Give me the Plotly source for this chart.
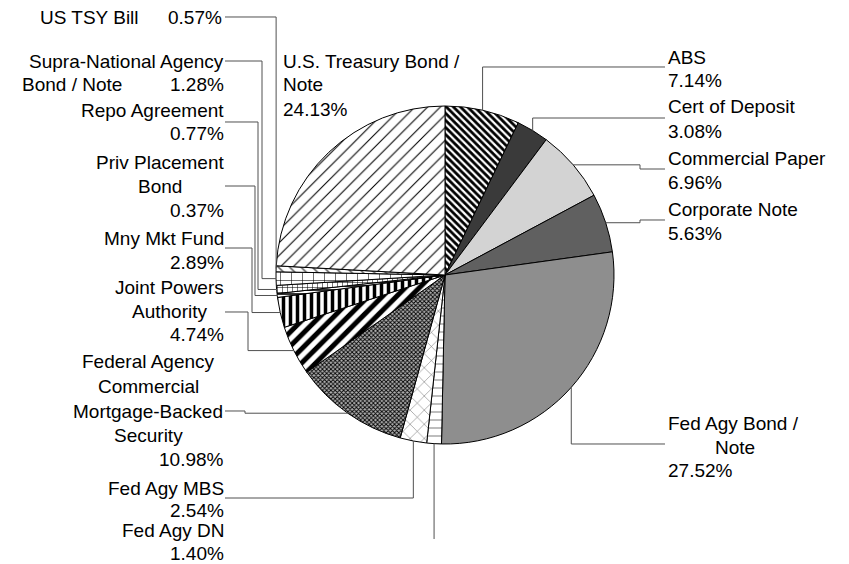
import math
import plotly.graph_objects as go

# ---------------- data ----------------
categories = ["ABS", "Cert of Deposit", "Commercial Paper", "Corporate Note",
              "Fed Agy Bond / Note", "Fed Agy DN", "Fed Agy MBS",
              "Federal Agency Commercial Mortgage-Backed Security",
              "Joint Powers Authority", "Mny Mkt Fund", "Priv Placement Bond",
              "Repo Agreement", "Supra-National Agency Bond / Note",
              "US TSY Bill", "U.S. Treasury Bond / Note"]
values = [7.14, 3.08, 6.96, 5.63, 27.52, 1.40, 2.54, 10.98, 4.74, 2.89,
          0.37, 0.77, 1.28, 0.57, 24.13]
label_lines = [["ABS"], ["Cert of Deposit"], ["Commercial Paper"], ["Corporate Note"],
               ["Fed Agy Bond /", "Note"], ["Fed Agy DN"], ["Fed Agy MBS"],
               ["Federal Agency", "Commercial", "Mortgage-Backed", "Security"],
               ["Joint Powers", "Authority"], ["Mny Mkt Fund"], ["Priv Placement", "Bond"],
               ["Repo Agreement"], ["Supra-National Agency", "Bond / Note"],
               ["US TSY Bill"], ["U.S. Treasury Bond /", "Note"]]

# ---------------- styles ----------------
W, H = 849, 564
CX, CY, R = 445, 275, 169
FONT = dict(family="Liberation Sans, Arial, sans-serif", size=19, color="#000000")
LINE_COLOR = "#505050"

fill_colors = ["#ffffff", "#3a3a3a", "#d3d3d3", "#606060", "#8e8e8e", "#ffffff", "#ffffff",
               "#ffffff", "#ffffff", "#ffffff", "#ffffff", "#ffffff", "#ffffff", "#ffffff", "#ffffff"]
pat_shapes = ["\\", "", "", "", "", "-", "x", "x", "/", "|", "-", "+", "+", "\\", "/"]
pat_fg = ["#000000", "#000000", "#000000", "#000000", "#000000", "#909090", "#666666",
          "#000000", "#000000", "#000000", "#000000", "#000000", "#000000", "#606060", "#000000"]
pat_bg = ["#ffffff"] * 7 + ["#b0b0b0"] + ["#ffffff"] * 7
pat_size = [5, 8, 8, 8, 8, 8, 10, 3, 10, 7, 4, 5, 11, 8, 9]
pat_sol = [0.55, 0.3, 0.3, 0.3, 0.3, 0.15, 0.1, 0.5, 0.5, 0.5, 0.4, 0.2, 0.1, 0.2, 0.12]

# label line positions in pixels: (x, y, xanchor) for each name line, then the percentage line
label_pos = [
    [(667, 57, "left"), (667, 81, "left")],
    [(667, 107, "left"), (667, 131, "left")],
    [(667, 158, "left"), (667, 182, "left")],
    [(667, 209, "left"), (667, 233, "left")],
    [(667, 423, "left"), (735, 447, "center"), (667, 470, "left")],
    [(225, 530, "right"), (225, 553, "right")],
    [(225, 488, "right"), (225, 510, "right")],
    [(148, 361, "center"), (148, 386, "center"), (148, 411, "center"), (148, 435, "center"), (225, 459, "right")],
    [(169, 287, "center"), (169, 311, "center"), (225, 334, "right")],
    [(225, 238, "right"), (225, 262, "right")],
    [(160, 162, "center"), (160, 186, "center"), (225, 210, "right")],
    [(225, 111, "right"), (225, 134, "right")],
    [(225, 61, "right"), (21, 85, "left"), (225, 85, "right")],
    [(140, 17, "right"), (223, 17, "right")],
    [(282, 61, "left"), (282, 85, "left"), (282, 109, "left")],
]
# leader routing in pixels: (label end x, label end y, elbow x); None = no leader
leaders = [
    (665, 67, None), (665, 118, None), (665, 169, 640), (665, 220, 640),
    (665, 444, None), (None, 539, None), (225, 498, None), (225, 411, 245),
    (225, 312, 248), (225, 248, 252), (225, 186, 255), (225, 122, 258),
    (225, 61, 262), (225, 17, None), None,
]


def px(x):
    return x / W


def py(y):
    return 1 - y / H


fig = go.Figure(go.Pie(
    labels=categories, values=values, sort=False, direction="clockwise", rotation=0,
    textinfo="none", textposition="none", hoverinfo="label+percent",
    marker=dict(colors=fill_colors, line=dict(color="#000000", width=1),
                pattern=dict(shape=pat_shapes, fgcolor=pat_fg, bgcolor=pat_bg,
                             size=pat_size, solidity=pat_sol, fillmode="replace")),
    domain=dict(x=[px(CX - R), px(CX + R)], y=[py(CY + R), py(CY - R)]),
    showlegend=False,
))

total = sum(values)
cum = 0.0
shapes = []
annotations = []
for i, v in enumerate(values):
    theta = 2 * math.pi * (cum + v / 2) / total
    cum += v
    ax = CX + R * math.sin(theta)
    ay = CY - R * math.cos(theta)
    ld = leaders[i]
    if ld is not None:
        lx, ly, ex = ld
        if lx is None:
            lx = ax
        if ex is None:
            pts = [(lx, ly), (ax, ly), (ax, ay)]
        else:
            pts = [(lx, ly), (ex, ly), (ex, ay), (ax, ay)]
        path = "M " + " L ".join(f"{px(x):.5f},{py(y):.5f}" for x, y in pts)
        shapes.append(dict(type="path", path=path, xref="paper", yref="paper",
                           line=dict(color=LINE_COLOR, width=1)))
    texts = label_lines[i] + [f"{v:.2f}%"]
    for t, (x, y, anc) in zip(texts, label_pos[i]):
        annotations.append(dict(text=t, x=px(x), y=py(y), xref="paper", yref="paper",
                                xanchor=anc, yanchor="middle", showarrow=False,
                                borderpad=0, font=FONT))

fig.update_layout(width=W, height=H, margin=dict(l=0, r=0, t=0, b=0),
                  paper_bgcolor="#ffffff", plot_bgcolor="#ffffff",
                  shapes=shapes, annotations=annotations)
fig.write_html("out.html", config={"displayModeBar": False},
               post_script="document.body.style.margin='0';document.body.style.overflow='hidden';")
